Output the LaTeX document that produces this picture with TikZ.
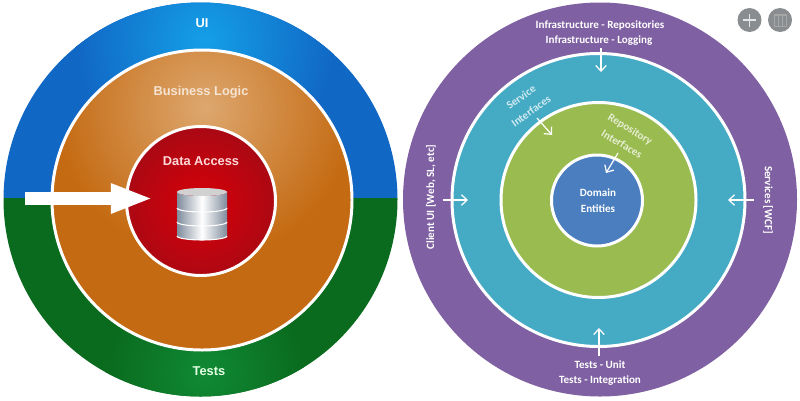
\documentclass[tikz,border=0pt]{standalone}
\usepackage{fontspec}
\setmainfont{Liberation Sans}
\newfontfamily\ringfont{Carlito}
\usetikzlibrary{arrows.meta}
\definecolor{uiBlue}{HTML}{1167C4}
\definecolor{uiGlow}{HTML}{149FE8}
\definecolor{testGreen}{HTML}{0A6A1E}
\definecolor{testGlow}{HTML}{108A34}
\definecolor{logicOrange}{HTML}{C46A12}
\definecolor{logicGlow}{HTML}{DDA76E}
\definecolor{dataRed}{HTML}{A20A16}
\definecolor{dataGlow}{HTML}{D80008}
\definecolor{ringPurple}{HTML}{7F60A2}
\definecolor{ringTeal}{HTML}{45ABC5}
\definecolor{ringGreen}{HTML}{9ABB4F}
\definecolor{ringBlue}{HTML}{4A7EBF}
\definecolor{buttonGray}{HTML}{8A8D8F}
\definecolor{platterEdge}{HTML}{7F8C9C}
% Args: {centre x}{centre y}{radius}{glow x}{glow y}{glow radius}{base}{glow}
\newcommand{\drawGlowDisc}[8]{
    \begin{scope}
        \clip (#1, #2) circle (#3);
        \fill[#7] (#1, #2) circle (#3);
        \shade[inner color=#8, outer color=#7] (#4, #5) circle (2*#6);
    \end{scope}
}
% Args: {top y of the disc}
\newcommand{\drawPlatter}[1]{
    \shade[left color=platterEdge, right color=platterEdge, middle color=white]
        (177, #1) -- (177, #1+16) arc[start angle=180, end angle=0, x radius=25, y radius=4]
        -- (227, #1) arc[start angle=0, end angle=180, x radius=25, y radius=4] -- cycle;
    \draw[white, line width=0.6pt] (177, #1+16) arc[start angle=180, end angle=0, x radius=25, y radius=4];
}

\begin{document}
\begin{tikzpicture}[
    x=0.02cm, y=-0.02cm,
    white ring/.style={draw=white, line width=1.7pt},
    left label/.style={text=#1, inner sep=0pt, font=\fontsize{7.3pt}{9pt}\selectfont\bfseries},
    right label/.style={text=#1, inner sep=0pt, font=\fontsize{6.3pt}{7pt}\selectfont\ringfont\bfseries},
    small arrow/.style={draw=white, line width=0.7pt, -{Straight Barb[length=3.2pt, width=6pt]}},
    big arrow/.style={draw=white, line width=7.4pt, -{Triangle[length=24pt, width=15.5pt]}},
    round button/.style={circle, fill=buttonGray, minimum size=0.48cm, inner sep=0pt}
]
\useasboundingbox (0, 0) rectangle (800, 400);

% 1. Left circle: outer band split in two halves
\begin{scope}
    \clip (200.5, 199.5) circle (197);
    \fill[uiBlue] (0, 0) rectangle (400, 198);
    \begin{scope}
        \clip (0, 0) rectangle (400, 198);
        \shade[inner color=uiGlow, outer color=uiBlue] (205, 40) circle (2*65);
    \end{scope}
    \fill[testGreen] (0, 198) rectangle (400, 400);
    \begin{scope}
        \clip (0, 198) rectangle (400, 400);
        \shade[inner color=testGlow, outer color=testGreen] (205, 372) circle (2*50);
    \end{scope}
\end{scope}

% 2. Left circle: inner discs
\drawGlowDisc{202}{200}{150}{205}{108}{75}{logicOrange}{logicGlow}
\draw[white ring] (202, 200) circle (150);
\drawGlowDisc{201}{201}{74.5}{201}{205}{45}{dataRed}{dataGlow}
\draw[white ring] (201, 201) circle (74.5);

% 3. Database
\foreach \y in {220, 206, 192} { \drawPlatter{\y} }
\fill[black!18!white] (202, 192) ellipse (25 and 4);

% 4. Big arrow and left labels
\coordinate (dataStart) at (25, 198.5);
\coordinate (dataEnd) at (153, 198.5);
\draw[big arrow] (dataStart) -- (dataEnd);

\node[left label=white] (uiLabel) at (202, 23) {UI};
\node[left label=logicGlow!30!white] (logicLabel) at (201, 92) {Business Logic};
\node[left label=red!15!white] (dataLabel) at (201, 161) {Data Access};
\node[left label=green!10!white] (testsLabel) at (209, 371) {Tests};

% 5. Right circle
\fill[ringPurple] (600, 199.5) circle (197);
\foreach \cx/\cy/\r/\col in {
    598.5/200/146.5/ringTeal,
    598.5/200/97.5/ringGreen,
    597/200.5/45.5/ringBlue}{
    \fill[\col] (\cx, \cy) circle (\r);
    \draw[white ring] (\cx, \cy) circle (\r);
}

% 6. Right labels
\node[right label=white] (repoLabel) at (600, 25) {Infrastructure - Repositories};
\node[right label=white] (logLabel) at (599, 41) {Infrastructure - Logging};
\node[right label=white] (unitLabel) at (600, 365) {Tests - Unit};
\node[right label=white] (integrationLabel) at (600, 381) {Tests - Integration};
\node[right label=white, rotate=90] (clientLabel) at (431, 197) {Client UI [Web, SL, etc]};
\node[right label=white, rotate=-90] (servicesLabel) at (768, 200) {Services [WCF]};
\node[right label=ringTeal!25!white, rotate=36] (serviceLabel) at (521, 97) {Service};
\node[right label=ringTeal!25!white, rotate=36] (serviceIfLabel) at (531, 111) {Interfaces};
\node[right label=ringGreen!25!white, rotate=-31] (repoIfLabel) at (630, 130) {Repository};
\node[right label=ringGreen!25!white, rotate=-31] (repoIfLabelB) at (622, 144) {Interfaces};
\node[right label=white] (domainLabel) at (598, 193) {Domain};
\node[right label=white] (entitiesLabel) at (598, 209) {Entities};

% 7. Small arrows
\coordinate (logStart) at (601, 48);      \coordinate (logEnd) at (601, 72);
\coordinate (serviceStart) at (537, 118); \coordinate (serviceEnd) at (552, 135);
\coordinate (repoStart) at (618, 153);    \coordinate (repoEnd) at (606, 173);
\coordinate (clientStart) at (443, 200);  \coordinate (clientEnd) at (468, 200);
\coordinate (wcfStart) at (754, 200);     \coordinate (wcfEnd) at (728, 200);
\coordinate (testStart) at (599, 356);    \coordinate (testEnd) at (599, 328);
\foreach \a/\b in {logStart/logEnd, serviceStart/serviceEnd, repoStart/repoEnd,
    clientStart/clientEnd, wcfStart/wcfEnd, testStart/testEnd}{
    \draw[small arrow] (\a) -- (\b);
}

% 8. Buttons
\node[round button] (addButton) at (749.5, 20) {};
\node[round button] (calendarButton) at (780, 20) {};
\draw[white!90!black, line width=0.7pt] (743, 20) -- (756, 20) (749.5, 13.5) -- (749.5, 26.5);
\draw[white!65!black, line width=0.5pt] (774, 14) rectangle (786, 26) (774, 15.5) -- (786, 15.5) (778, 16) -- (778, 26) (782, 16) -- (782, 26);

\end{tikzpicture}
\end{document}
